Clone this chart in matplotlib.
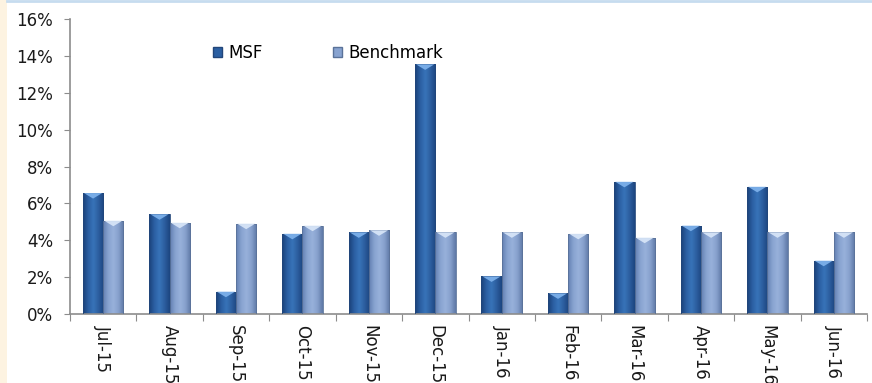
import numpy as np
import matplotlib.pyplot as plt
from matplotlib.colors import LinearSegmentedColormap
from matplotlib.patches import Patch, Polygon, Rectangle

months = ['Jul-15', 'Aug-15', 'Sep-15', 'Oct-15', 'Nov-15', 'Dec-15',
          'Jan-16', 'Feb-16', 'Mar-16', 'Apr-16', 'May-16', 'Jun-16']
msf = [6.56, 5.41, 1.21, 4.35, 4.43, 13.54, 2.04, 1.12, 7.17, 4.79, 6.90, 2.89]
benchmark = [5.06, 4.95, 4.90, 4.79, 4.54, 4.43, 4.43, 4.35, 4.14, 4.43, 4.43, 4.43]
yticks = [0, 2, 4, 6, 8, 10, 12, 14, 16]

plt.rcParams['font.family'] = ['DejaVu Sans']

# side shading of each bar: dark edge -> lighter middle -> dark edge
msf_shade = LinearSegmentedColormap.from_list(
    'msf', ['#1a4179', '#2b5fa2', '#3874b9', '#2c5e9f', '#1c4580'])
bm_shade = LinearSegmentedColormap.from_list(
    'bm', ['#6380b2', '#88a3d0', '#98b1db', '#86a0cc', '#5e78a6'])

fig = plt.figure(figsize=(8.72, 3.83), dpi=100)
fig.patches.append(Rectangle((0, 0), 7 / 872, 1, transform=fig.transFigure,
                             facecolor='#fdf3e1', edgecolor='none', zorder=0))
fig.lines.append(plt.Line2D([7 / 872, 1], [0.998, 0.998], transform=fig.transFigure,
                            color='#c6dcef', lw=2))

ax = fig.add_axes([70 / 872, 1 - 314 / 383, 797 / 872, 295 / 383])
x = np.arange(len(months)) + 0.5
w = 0.305
bars_msf = ax.bar(x - w / 2, msf, width=w, color='none', edgecolor='none')
bars_bm = ax.bar(x + w / 2, benchmark, width=w, color='none', edgecolor='none')

grad = np.linspace(0, 1, 64).reshape(1, -1)
cap_h = 0.3
for bars, cmap, cap_col, edge in [(bars_msf, msf_shade, '#7cb0ea', '#22467a'),
                                  (bars_bm, bm_shade, '#d6e4f7', '#5a7299')]:
    for b in bars:
        x0, h, bw = b.get_x(), b.get_height(), b.get_width()
        im = ax.imshow(grad, cmap=cmap, aspect='auto', extent=(x0, x0 + bw, 0, h),
                       zorder=2, interpolation='bicubic')
        im.set_clip_path(b)
        ax.add_patch(Rectangle((x0, 0), bw, h, facecolor='none', edgecolor=edge,
                               lw=0.6, zorder=3))
        # bevelled top
        cap = Polygon([(x0 + bw * 0.05, h), (x0 + bw * 0.95, h),
                       (x0 + bw * 0.5, h - cap_h)], closed=True,
                      facecolor=cap_col, edgecolor='none', alpha=0.95, zorder=4)
        ax.add_patch(cap)

ax.set_xlim(0, 11.78)
ax.set_ylim(0, 16)
ax.set_yticks(yticks)
ax.set_yticklabels([f'{t}%' for t in yticks], fontsize=12, color='#1a1a1a')
ax.set_xticks(np.arange(len(months) + 1))
ax.set_xticklabels([])
ax.set_xticks(x, minor=True)
ax.set_xticklabels(months, minor=True, rotation=270, fontsize=12, color='#1a1a1a')
ax.tick_params(axis='x', which='minor', length=0, pad=8)
ax.tick_params(axis='x', which='major', length=5, color='#8c8c8c', direction='out')
ax.tick_params(axis='y', length=4, color='#8c8c8c', pad=8)
for s in ['top', 'right']:
    ax.spines[s].set_visible(False)
for s in ['left', 'bottom']:
    ax.spines[s].set_color('#8c8c8c')
    ax.spines[s].set_linewidth(1.2)

handles = [Patch(facecolor='#2b5fa2', edgecolor='#22467a', label='MSF'),
           Patch(facecolor='#88a3d0', edgecolor='#5a7299', label='Benchmark')]
fig.legend(handles=handles, loc='center left', bbox_to_anchor=(213 / 872, 1 - 53 / 383),
           ncol=2, frameon=False, fontsize=12, handlelength=0.55, handleheight=0.55,
           handletextpad=0.35, columnspacing=4.25, borderaxespad=0, borderpad=0)

fig.savefig('out.png', dpi=100)
